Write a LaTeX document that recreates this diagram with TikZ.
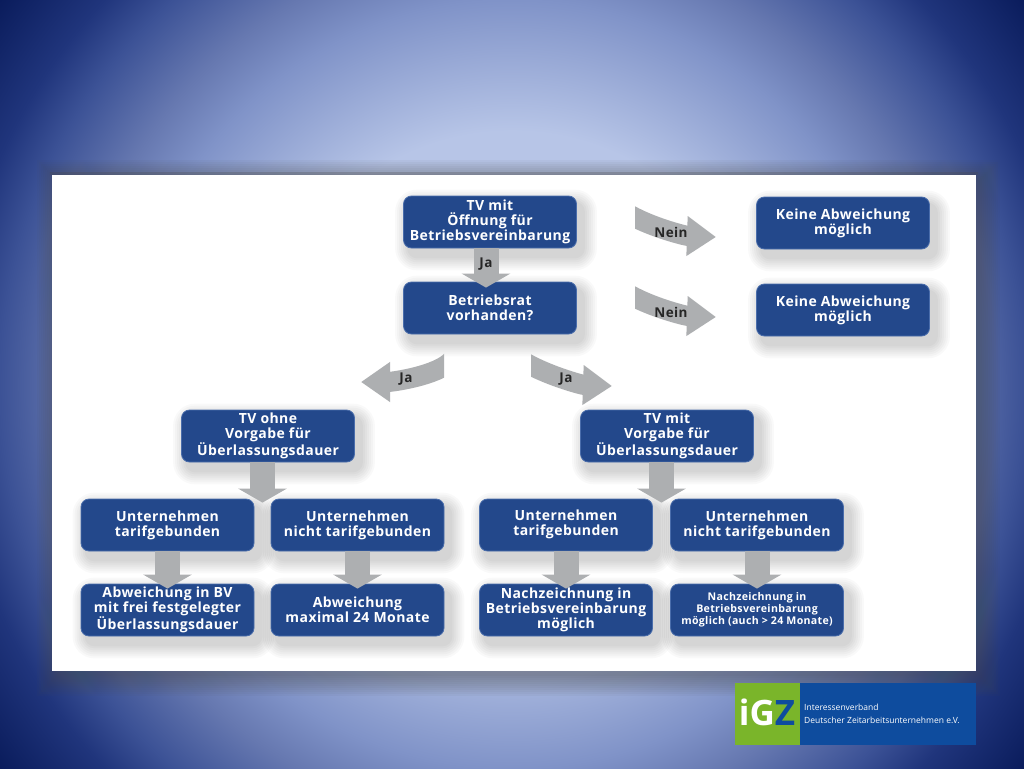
\documentclass[tikz,border=0pt]{standalone}
\usepackage{fontspec}
\setmainfont{Open Sans}
\newfontfamily\boxfont[LetterSpace=3]{Open Sans}
\usepackage{tikz}
\usetikzlibrary{arrows.meta,calc,backgrounds}
\definecolor{boxblue}{HTML}{23488B}
\definecolor{boxrim}{HTML}{4A6DAB}
\definecolor{arrowgrey}{HTML}{ADAFB1}
\definecolor{logogreen}{HTML}{7AB52A}
\definecolor{logoblue}{HTML}{0E4C9E}
\definecolor{glowa}{HTML}{B7C5E7}
\definecolor{glowb}{HTML}{8093C8}
\definecolor{glowc}{HTML}{6678B0}
\definecolor{glowd}{HTML}{3C5296}
\definecolor{glowe}{HTML}{20357C}
\definecolor{glowf}{HTML}{0A1C5C}
\pgfdeclareradialshading{bgglow}{\pgfpoint{0bp}{0bp}}{color(0bp)=(glowa); color(7.9bp)=(glowa); color(12bp)=(glowb); color(13.75bp)=(glowc); color(16bp)=(glowd); color(17.5bp)=(glowe); color(20bp)=(glowf); color(50bp)=(glowf)}
\tikzset{
  infobox/.style={rectangle,rounded corners=8pt,draw=boxrim,line width=.8pt,fill=boxblue,text=white,
    minimum width=173pt,minimum height=52pt,inner sep=0pt,align=center,
    font=\fontsize{14}{15}\selectfont\boxfont\bfseries},
  flowarrow/.style={draw=arrowgrey,line width=25pt,-{Triangle[width=48pt,length=14pt]}},
  bentarrow/.style={draw=arrowgrey,line width=20pt,-{Triangle[width=38pt,length=29pt]}},
  arrowlabel/.style={text=black!85,font=\fontsize{13.5}{15}\selectfont\boxfont\bfseries,inner sep=0pt}
}
\begin{document}
\begin{tikzpicture}[x=1pt,y=-1pt]
\useasboundingbox (0,0) rectangle (1024,768);

% boxes
\node[infobox] (oeffnung) at (490,222) {TV mit\\Öffnung für\\Betriebsvereinbarung};
\node[infobox] (betriebsrat) at (490,308) {Betriebsrat\\vorhanden?};
\node[infobox] (keineA) at (843,223) {Keine Abweichung\\möglich};
\node[infobox] (keineB) at (843,310) {Keine Abweichung\\möglich};
\node[infobox] (ohne) at (268,436) {TV ohne\\Vorgabe für\\Überlassungsdauer};
\node[infobox] (mit) at (667,436) {TV mit\\Vorgabe für\\Überlassungsdauer};
\node[infobox] (tarifA) at (167.5,525) {Unternehmen\\tarifgebunden};
\node[infobox] (nichtA) at (357.5,525) {Unternehmen\\nicht tarifgebunden};
\node[infobox] (tarifB) at (566,525) {Unternehmen\\tarifgebunden\rule[-5pt]{0pt}{5pt}};
\node[infobox] (nichtB) at (757,525) {Unternehmen\\nicht tarifgebunden};
\node[infobox] (frei) at (167.5,610) {Abweichung in BV\\mit frei festgelegter\\Überlassungsdauer};
\node[infobox] (maximal) at (357.5,610) {Abweichung\\maximal 24 Monate};
\node[infobox] (nachA) at (566,610) {Nachzeichnung in\\Betriebsvereinbarung\\möglich};
\node[infobox,font=\fontsize{10.6}{12}\selectfont\boxfont\bfseries] (nachB) at (757,610) {Nachzeichnung in\\Betriebsvereinbarung\\möglich (auch > 24 Monate)};

% background
\begin{pgfonlayer}{background}
  \begin{scope}
    \clip (0,0) rectangle (1024,768);
    \shade[shading=bgglow] (512,384) circle (800);
    \foreach \s in {2,4,...,22}{
      \fill[black!70,opacity=.05] (52-\s+7,175-\s+7) rectangle (976+\s+2,671+\s+3);
    }
    \draw[black!70,opacity=.25,line width=3pt] (50,173.5) -- (978,173.5);
  \end{scope}
  \fill[white] (52,175) rectangle (976,671);
  % shadows
  \foreach \h in {oeffnung,betriebsrat,keineA,keineB,ohne,mit,tarifA,nichtA,tarifB,nichtB,frei,maximal,nachA,nachB}{
    \foreach \s in {2,4,...,14}{
      \fill[black,opacity=.025,rounded corners=8pt+\s] ([xshift=6pt-\s,yshift=-8pt-\s]\h.south west) rectangle ([xshift=6pt+\s,yshift=-8pt+\s]\h.north east);
    }
  }
\end{pgfonlayer}

% straight arrows
\coordinate (ohnetip) at ($(tarifA.north)!.5!(nichtA.north)$);
\coordinate (mittip) at ($(tarifB.north)!.5!(nichtB.north)$);
\draw[flowarrow] ([xshift=-4pt]oeffnung.south) -- ([xshift=-4pt,yshift=-6pt]betriebsrat.north);
\draw[flowarrow] (ohne.south -| ohnetip) -- ([yshift=-4pt]ohnetip);
\draw[flowarrow] (mit.south -| mittip) -- ([yshift=-4pt]mittip);
\foreach \from/\to in {tarifA/frei,nichtA/maximal,tarifB/nachA,nichtB/nachB}{
  \draw[flowarrow] (\from.south) -- ([yshift=-5pt]\to.north);
}

% bent arrows
\coordinate (neinAs) at (625,212);
\coordinate (neinAe) at (716,237);
\coordinate (neinBs) at (625,292);
\coordinate (neinBe) at (716,317);
\coordinate (jaLs) at (452,360);
\coordinate (jaLe) at (361,382);
\coordinate (jaRs) at (521,360);
\coordinate (jaRe) at (612,386);
\begin{scope}
  \clip (635,190) rectangle (730,340);
  \draw[bentarrow] (neinAs) .. controls +(24,15) and +(-30,-1) .. (neinAe);
  \draw[bentarrow] (neinBs) .. controls +(24,15) and +(-30,-1) .. (neinBe);
\end{scope}
\begin{scope}
  \clip (531,345) rectangle (625,410);
  \draw[bentarrow] (jaRs) .. controls +(24,15) and +(-30,-1) .. (jaRe);
\end{scope}
\begin{scope}
  \clip (350,345) rectangle (444,410);
  \draw[bentarrow] (jaLs) .. controls +(-14,16) and +(30,0) .. (jaLe);
\end{scope}

% labels
\node[arrowlabel] (jaT) at (486,264) {Ja};
\node[arrowlabel] (neinA) at (671,232) {Nein};
\node[arrowlabel] (neinB) at (671,312) {Nein};
\node[arrowlabel] (jaL) at (406,379) {Ja};
\node[arrowlabel] (jaR) at (566,379) {Ja};

% logo
\fill[logoblue] (735,683) rectangle (976,745);
\fill[logogreen] (735,683) rectangle (800,745);
\node[inner sep=0pt,font=\fontsize{35}{35}\selectfont\bfseries] (igz) at (767,712) {\textcolor{white}{iG}\textcolor{logoblue}{Z}};
\node[inner sep=0pt,anchor=west,align=left,text=white,font=\fontsize{8.5}{13}\selectfont] (igztext) at (804,714) {Interessenverband\\Deutscher Zeitarbeitsunternehmen e.V.};
\end{tikzpicture}
\end{document}
